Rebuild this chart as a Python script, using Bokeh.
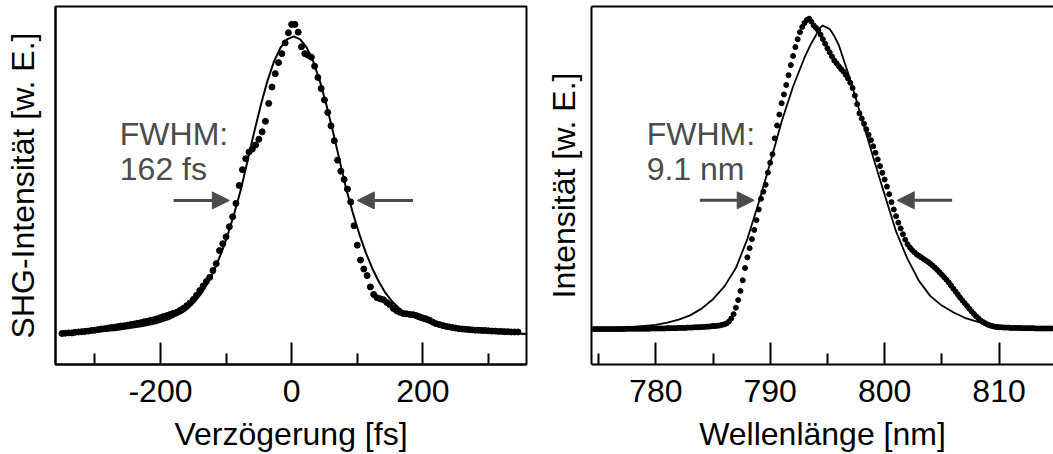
from bokeh.plotting import figure
from bokeh.layouts import row
from bokeh.models import FixedTicker, LinearAxis, Range1d, Label, Arrow, NormalHead
from bokeh.embed import file_html
from bokeh.resources import INLINE

# ---------------- data: left panel (autocorrelation) ----------------
delay_fs = [
    -350, -345, -340, -335, -330, -325, -320, -315, -310, -305,
    -300, -295, -290, -285, -280, -275, -270, -265, -260, -255,
    -250, -245, -240, -235, -230, -225, -220, -215, -210, -205,
    -200, -195, -190, -185, -180, -175, -170, -165, -160, -155,
    -150, -145, -140, -135, -130, -125, -120, -115, -110, -105,
    -100, -95, -90, -85, -80, -75, -70, -65, -60, -55,
    -50, -45, -40, -35, -30, -25, -20, -15, -10, -5,
    0, 5, 10, 15, 20, 25, 30, 35, 40, 45,
    50, 55, 60, 65, 70, 75, 80, 85, 90, 95,
    100, 105, 110, 115, 120, 125, 130, 135, 140, 145,
    150, 155, 160, 165, 170, 175, 180, 185, 190, 195,
    200, 205, 210, 215, 220, 225, 230, 235, 240, 245,
    250, 255, 260, 265, 270, 275, 280, 285, 290, 295,
    300, 305, 310, 315, 320, 325, 330, 335, 340, 345,
]
shg_measured = [
    0.004, 0.005, 0.006, 0.006, 0.008, 0.009, 0.010, 0.011, 0.012, 0.014,
    0.015, 0.017, 0.019, 0.020, 0.022, 0.024, 0.025, 0.027, 0.029, 0.030,
    0.032, 0.034, 0.036, 0.038, 0.040, 0.043, 0.045, 0.048, 0.050, 0.053,
    0.057, 0.061, 0.064, 0.068, 0.072, 0.075, 0.082, 0.088, 0.097, 0.106,
    0.118, 0.132, 0.148, 0.163, 0.178, 0.192, 0.215, 0.238, 0.282, 0.305,
    0.328, 0.362, 0.395, 0.440, 0.500, 0.553, 0.590, 0.612, 0.622, 0.636,
    0.655, 0.680, 0.715, 0.775, 0.830, 0.875, 0.912, 0.942, 0.978, 1.012,
    1.040, 1.040, 1.014, 0.965, 0.942, 0.937, 0.930, 0.900, 0.862, 0.825,
    0.787, 0.745, 0.700, 0.650, 0.585, 0.548, 0.520, 0.488, 0.445, 0.365,
    0.300, 0.250, 0.220, 0.198, 0.160, 0.135, 0.124, 0.120, 0.117, 0.108,
    0.100, 0.088, 0.080, 0.075, 0.071, 0.070, 0.068, 0.067, 0.064, 0.060,
    0.056, 0.053, 0.048, 0.042, 0.037, 0.034, 0.031, 0.028, 0.026, 0.024,
    0.022, 0.020, 0.019, 0.018, 0.017, 0.016, 0.015, 0.015, 0.014, 0.014,
    0.013, 0.012, 0.012, 0.011, 0.011, 0.010, 0.010, 0.009, 0.009, 0.009,
]
fit_delay_fs = [-355, -307, -267, -227, -207, -187, -167, -157, -147, -137,
                -127, -117, -107, -97, -87, -77, -67, -57, -47, -37,
                -27, -17, -7, 3, 13, 23, 33, 43, 53, 63,
                73, 83, 93, 103, 113, 123, 133, 143, 153, 163,
                173, 193, 213, 233, 273, 313, 358]
fit_shg = [0.002, 0.008, 0.016, 0.029, 0.038, 0.052, 0.074, 0.090, 0.112, 0.140,
           0.177, 0.222, 0.275, 0.338, 0.410, 0.490, 0.585, 0.680, 0.770, 0.850,
           0.915, 0.962, 0.990, 1.000, 0.990, 0.962, 0.915, 0.850, 0.770, 0.680,
           0.585, 0.490, 0.410, 0.338, 0.275, 0.222, 0.177, 0.140, 0.112, 0.090,
           0.074, 0.052, 0.038, 0.029, 0.016, 0.008, 0.002]
left_ticks = [-200, 0, 200]
left_tick_labels = {-200: "-200", 0: "0", 200: "200"}
left_minor = [-300, -100, 100, 300]

# ---------------- data: right panel (spectrum) ----------------
wavelength_nm = [
    774.6, 774.8, 775.0, 775.2, 775.4, 775.6, 775.8, 776.0, 776.2, 776.4,
    776.6, 776.8, 777.0, 777.2, 777.4, 777.6, 777.8, 778.0, 778.2, 778.4,
    778.6, 778.8, 779.0, 779.2, 779.4, 779.6, 779.8, 780.0, 780.2, 780.4,
    780.6, 780.8, 781.0, 781.2, 781.4, 781.6, 781.8, 782.0, 782.2, 782.4,
    782.6, 782.8, 783.0, 783.2, 783.4, 783.6, 783.8, 784.0, 784.2, 784.4,
    784.6, 784.8, 785.0, 785.2, 785.4, 785.6, 785.8, 786.0, 786.2, 786.4,
    786.6, 786.8, 787.0, 787.2, 787.4, 787.6, 787.8, 788.0, 788.2, 788.4,
    788.6, 788.8, 789.0, 789.2, 789.4, 789.6, 789.8, 790.0, 790.2, 790.4,
    790.6, 790.8, 791.0, 791.2, 791.4, 791.6, 791.8, 792.0, 792.2, 792.4,
    792.6, 792.8, 793.0, 793.2, 793.4, 793.6, 793.8, 794.0, 794.2, 794.4,
    794.6, 794.8, 795.0, 795.2, 795.4, 795.6, 795.8, 796.0, 796.2, 796.4,
    796.6, 796.8, 797.0, 797.2, 797.4, 797.6, 797.8, 798.0, 798.2, 798.4,
    798.6, 798.8, 799.0, 799.2, 799.4, 799.6, 799.8, 800.0, 800.2, 800.4,
    800.6, 800.8, 801.0, 801.2, 801.4, 801.6, 801.8, 802.0, 802.2, 802.4,
    802.6, 802.8, 803.0, 803.2, 803.4, 803.6, 803.8, 804.0, 804.2, 804.4,
    804.6, 804.8, 805.0, 805.2, 805.4, 805.6, 805.8, 806.0, 806.2, 806.4,
    806.6, 806.8, 807.0, 807.2, 807.4, 807.6, 807.8, 808.0, 808.2, 808.4,
    808.6, 808.8, 809.0, 809.2, 809.4, 809.6, 809.8, 810.0, 810.2, 810.4,
    810.6, 810.8, 811.0, 811.2, 811.4, 811.6, 811.8, 812.0, 812.2, 812.4,
    812.6, 812.8, 813.0, 813.2, 813.4, 813.6, 813.8, 814.0, 814.2, 814.4,
    814.6,
]
spec_measured = [
    0.005, 0.005, 0.005, 0.005, 0.005, 0.005, 0.005, 0.005, 0.005, 0.005,
    0.005, 0.005, 0.005, 0.005, 0.006, 0.006, 0.006, 0.006, 0.006, 0.006,
    0.006, 0.006, 0.006, 0.006, 0.006, 0.007, 0.007, 0.007, 0.007, 0.007,
    0.007, 0.007, 0.008, 0.008, 0.008, 0.008, 0.008, 0.009, 0.009, 0.009,
    0.009, 0.010, 0.010, 0.010, 0.011, 0.011, 0.011, 0.012, 0.012, 0.013,
    0.013, 0.014, 0.015, 0.015, 0.016, 0.017, 0.019, 0.021, 0.024, 0.030,
    0.040, 0.054, 0.075, 0.100, 0.130, 0.165, 0.205, 0.240, 0.270, 0.300,
    0.330, 0.362, 0.397, 0.432, 0.455, 0.478, 0.518, 0.550, 0.578, 0.630,
    0.672, 0.708, 0.745, 0.774, 0.805, 0.837, 0.870, 0.900, 0.929, 0.955,
    0.978, 0.995, 1.008, 1.018, 1.022, 1.012, 1.000, 0.992, 0.984, 0.970,
    0.955, 0.940, 0.925, 0.912, 0.898, 0.885, 0.876, 0.866, 0.857, 0.849,
    0.838, 0.826, 0.812, 0.795, 0.770, 0.742, 0.712, 0.695, 0.678, 0.660,
    0.642, 0.624, 0.604, 0.583, 0.561, 0.539, 0.517, 0.495, 0.472, 0.447,
    0.421, 0.397, 0.375, 0.354, 0.335, 0.316, 0.298, 0.283, 0.273, 0.264,
    0.257, 0.250, 0.245, 0.240, 0.235, 0.230, 0.225, 0.219, 0.213, 0.206,
    0.199, 0.191, 0.183, 0.175, 0.167, 0.158, 0.148, 0.138, 0.128, 0.118,
    0.108, 0.099, 0.090, 0.081, 0.072, 0.063, 0.055, 0.047, 0.040, 0.033,
    0.028, 0.024, 0.020, 0.017, 0.015, 0.013, 0.012, 0.011, 0.011, 0.010,
    0.010, 0.010, 0.009, 0.009, 0.009, 0.009, 0.009, 0.008, 0.008, 0.008,
    0.008, 0.008, 0.008, 0.007, 0.007, 0.007, 0.007, 0.007, 0.007, 0.007,
    0.007,
]
fit_wavelength_nm = [774.4, 776, 778, 780, 781, 782, 783, 784, 785, 786,
                     787, 788, 789, 790, 791, 792, 793, 793.5, 794, 794.3,
                     794.6, 795.2, 795.6, 796, 797, 798, 799, 800, 801, 802,
                     803, 804, 805, 806, 807, 808, 809, 810, 812, 814.8]
fit_spec = [0.005, 0.008, 0.012, 0.019, 0.026, 0.036, 0.050, 0.072, 0.103, 0.145,
            0.205, 0.300, 0.420, 0.550, 0.685, 0.800, 0.895, 0.935, 0.968, 0.990,
            1.000, 0.988, 0.965, 0.935, 0.822, 0.695, 0.568, 0.445, 0.325, 0.235,
            0.163, 0.113, 0.082, 0.060, 0.042, 0.030, 0.021, 0.015, 0.009, 0.006]
right_ticks = [780, 790, 800, 810]
right_minor = [775, 785, 795, 805]

# ---------------- annotations ----------------
left_fwhm_text = ["FWHM:", "162 fs"]
right_fwhm_text = ["FWHM:", "9.1 nm"]

FONT = "Liberation Sans"
GRAY = "#4b4b4b"
FS = "32px"


def style_bottom(ax, ticks, minor):
    ax.ticker = FixedTicker(ticks=ticks, minor_ticks=minor)
    ax.axis_line_width = 2
    ax.axis_line_color = "black"
    ax.major_tick_in = 22
    ax.major_tick_out = 0
    ax.minor_tick_in = 11
    ax.minor_tick_out = 0
    ax.major_tick_line_width = 2
    ax.minor_tick_line_width = 2
    ax.major_tick_line_color = "black"
    ax.minor_tick_line_color = "black"
    ax.major_label_text_font = FONT
    ax.major_label_text_font_size = FS
    ax.major_label_text_color = "black"
    ax.major_label_standoff = 15
    ax.axis_label_text_font = FONT
    ax.axis_label_text_font_size = FS
    ax.axis_label_text_font_style = "normal"
    ax.axis_label_text_color = "black"
    ax.axis_label_standoff = 11


def style_left(ax, standoff):
    ax.ticker = FixedTicker(ticks=[])
    ax.axis_line_width = 2
    ax.axis_line_color = "black"
    ax.major_tick_in = 0
    ax.major_tick_out = 0
    ax.minor_tick_in = 0
    ax.minor_tick_out = 0
    ax.major_label_standoff = 0
    ax.axis_label_text_font = FONT
    ax.axis_label_text_font_size = FS
    ax.axis_label_text_font_style = "normal"
    ax.axis_label_text_color = "black"
    ax.axis_label_standoff = standoff


def add_arrow(p, xs, xe, y):
    p.add_layout(Arrow(end=NormalHead(size=17, fill_color=GRAY, line_color=GRAY, line_width=1),
                       x_start=xs, y_start=y, x_end=xe, y_end=y,
                       line_color=GRAY, line_width=3))


# ---------------- left figure ----------------
p1 = figure(width=538, height=454, x_range=Range1d(-360, 358), y_range=Range1d(-0.1, 1.1),
            output_backend="svg", toolbar_location=None,
            min_border_left=55, min_border_right=12, min_border_top=6, min_border_bottom=88)
p1.grid.visible = False
p1.outline_line_color = "black"
p1.outline_line_width = 2
p1.outline_line_alpha = 1
p1.xaxis.axis_label = "Verzögerung [fs]"
p1.yaxis.axis_label = "SHG-Intensität [w. E.]"
style_bottom(p1.xaxis[0], left_ticks, left_minor)
p1.xaxis[0].major_label_overrides = left_tick_labels
style_left(p1.yaxis[0], 15)

p1.line(fit_delay_fs, fit_shg, line_color="black", line_width=2)
p1.scatter(delay_fs, shg_measured, size=6, fill_color="black", line_color="black")

p1.add_layout(Label(x=-262, y=0.673, text=left_fwhm_text[0], text_font=FONT, text_font_size=FS,
                    text_color=GRAY, text_baseline="alphabetic", text_align="left"))
p1.add_layout(Label(x=-262, y=0.556, text=left_fwhm_text[1], text_font=FONT, text_font_size=FS,
                    text_color=GRAY, text_baseline="alphabetic", text_align="left"))
add_arrow(p1, -180, -95, 0.45)
add_arrow(p1, 185, 100, 0.45)

# ---------------- right figure ----------------
p2 = figure(width=515, height=454, x_range=Range1d(774.38, 814.76), y_range=Range1d(-0.111, 1.062),
            output_backend="svg", toolbar_location=None,
            min_border_left=53, min_border_right=0, min_border_top=6, min_border_bottom=88)
p2.grid.visible = False
p2.outline_line_color = None
p2.xaxis.axis_label = "Wellenlänge [nm]"
p2.yaxis.axis_label = "Intensität [w. E.]"
style_bottom(p2.xaxis[0], right_ticks, right_minor)
style_left(p2.yaxis[0], 10)
top_axis = LinearAxis()
style_left(top_axis, 0)
p2.add_layout(top_axis, "above")

p2.line(fit_wavelength_nm, fit_spec, line_color="black", line_width=1.8)
p2.scatter(wavelength_nm, spec_measured, size=5, fill_color="black", line_color="black")

p2.add_layout(Label(x=779.2, y=0.645, text=right_fwhm_text[0], text_font=FONT, text_font_size=FS,
                    text_color=GRAY, text_baseline="alphabetic", text_align="left"))
p2.add_layout(Label(x=779.2, y=0.531, text=right_fwhm_text[1], text_font=FONT, text_font_size=FS,
                    text_color=GRAY, text_baseline="alphabetic", text_align="left"))
add_arrow(p2, 783.85, 788.6, 0.427)
add_arrow(p2, 805.9, 801.1, 0.427)

layout = row(p1, p2)
open("out.html", "w").write(file_html(layout, INLINE))
